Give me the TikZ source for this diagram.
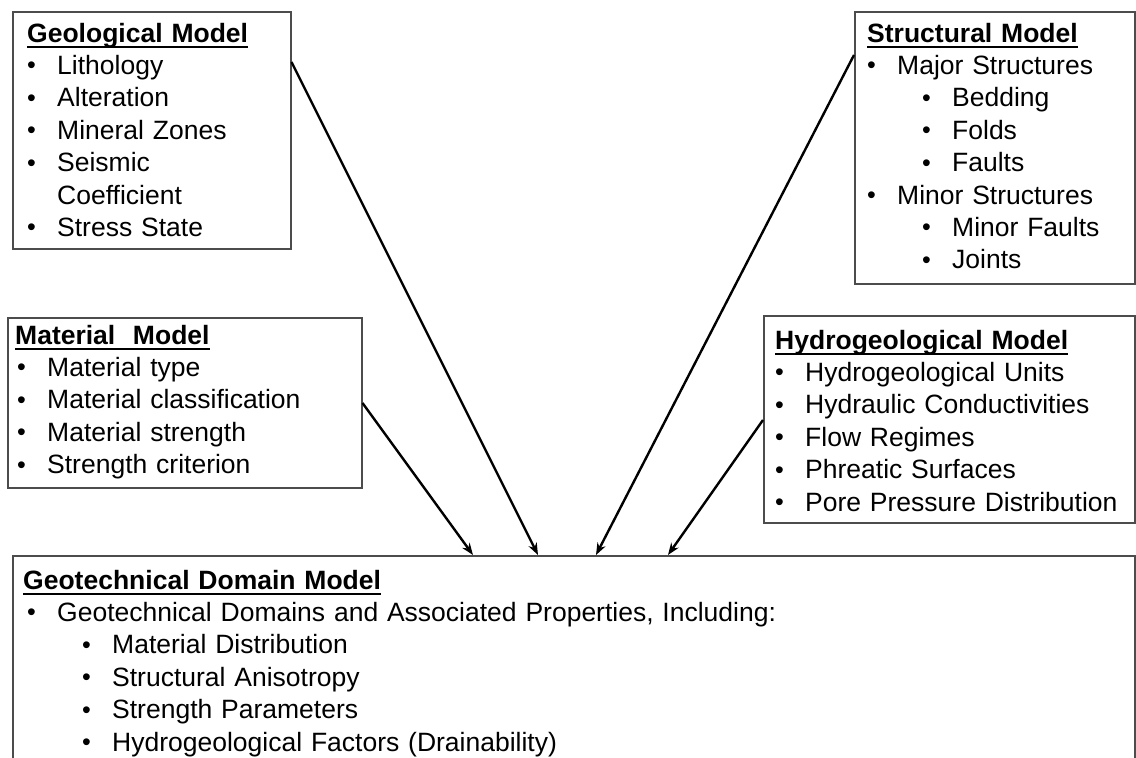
\documentclass[tikz,border=0pt]{standalone}
\usepackage{fontspec}
\setmainfont{Liberation Sans}
\usetikzlibrary{positioning, arrows.meta}
\newcommand{\hdr}[1]{\setbox0\hbox{\bfseries #1}\rlap{\rule[-6pt]{\wd0}{2pt}}\box0}
\newcommand{\bul}{\makebox[30pt][l]{\raisebox{0.5pt}{\fontsize{25}{25}\selectfont\textbullet}}}
\newcommand{\subbul}{\hspace*{55pt}\bul}

\begin{document}
\begin{tikzpicture}[x=1pt, y=1pt,
    box/.style={draw=black!70, line width=1.5pt, rectangle, inner sep=0pt, anchor=north west},
    txt/.style={anchor=base west, align=left, inner sep=0pt, text width=#1, font=\fontsize{26.5}{32.4}\selectfont},
    link/.style={->, >={Stealth[length=12pt, width=9pt]}, line width=2.4pt}]
    \useasboundingbox (0,0) rectangle (1136,-758);
    % boxes
    \node [box, minimum width=278pt, minimum height=237pt] (geo) at (12,-11) {};
    \node [box, minimum width=280pt, minimum height=272pt] (struc) at (854,-11) {};
    \node [box, minimum width=354pt, minimum height=170pt] (mat) at (7,-317) {};
    \node [box, minimum width=371pt, minimum height=207pt] (hyd) at (763,-315) {};
    \node [box, minimum width=1122pt, minimum height=215pt] (dom) at (12,-555) {};
    % texts
    \node [txt=260pt] (geotxt) at ([xshift=15pt, yshift=-31pt]geo.north west)
        {\hdr{Geological Model}\\ \bul Lithology\\ \bul Alteration\\ \bul Mineral Zones\\
         \bul Seismic\\ \hspace*{30pt}Coefficient\\ \bul Stress State};
    \node [txt=265pt] (structxt) at ([xshift=13pt, yshift=-31pt]struc.north west)
        {\hdr{Structural Model}\\ \bul Major Structures\\ \subbul Bedding\\ \subbul Folds\\ \subbul Faults\\
         \bul Minor Structures\\ \subbul Minor Faults\\ \subbul Joints};
    \node [txt=340pt] (mattxt) at ([xshift=8pt, yshift=-27pt]mat.north west)
        {\hdr{Material\ \ Model}\\ \hspace*{2pt}\bul Material type\\ \hspace*{2pt}\bul Material classification\\
         \hspace*{2pt}\bul Material strength\\ \hspace*{2pt}\bul Strength criterion};
    \node [txt=360pt] (hydtxt) at ([xshift=12pt, yshift=-34pt]hyd.north west)
        {\hdr{Hydrogeological Model}\\ \bul Hydrogeological Units\\ \bul Hydraulic Conductivities\\
         \bul Flow Regimes\\ \bul Phreatic Surfaces\\ \bul Pore Pressure Distribution};
    \node [txt=1090pt] (domtxt) at ([xshift=11pt, yshift=-34pt]dom.north west)
        {\hdr{Geotechnical Domain Model}\\ \hspace*{4pt}\bul Geotechnical Domains and Associated Properties, Including:\\
         \hspace*{4pt}\subbul Material Distribution\\ \hspace*{4pt}\subbul Structural Anisotropy\\
         \hspace*{4pt}\subbul Strength Parameters\\ \hspace*{4pt}\subbul Hydrogeological Factors (Drainability)};
    % arrows into the domain model
    \draw [link] ([yshift=-86pt]mat.north east) -- ([xshift=461pt]dom.north west);
    \draw [link] ([yshift=-51pt]geo.north east) -- ([xshift=526pt]dom.north west);
    \draw [link] ([yshift=-44pt]struc.north west) -- ([xshift=584pt]dom.north west);
    \draw [link] ([yshift=-105pt]hyd.north west) -- ([xshift=656pt]dom.north west);
\end{tikzpicture}
\end{document}
